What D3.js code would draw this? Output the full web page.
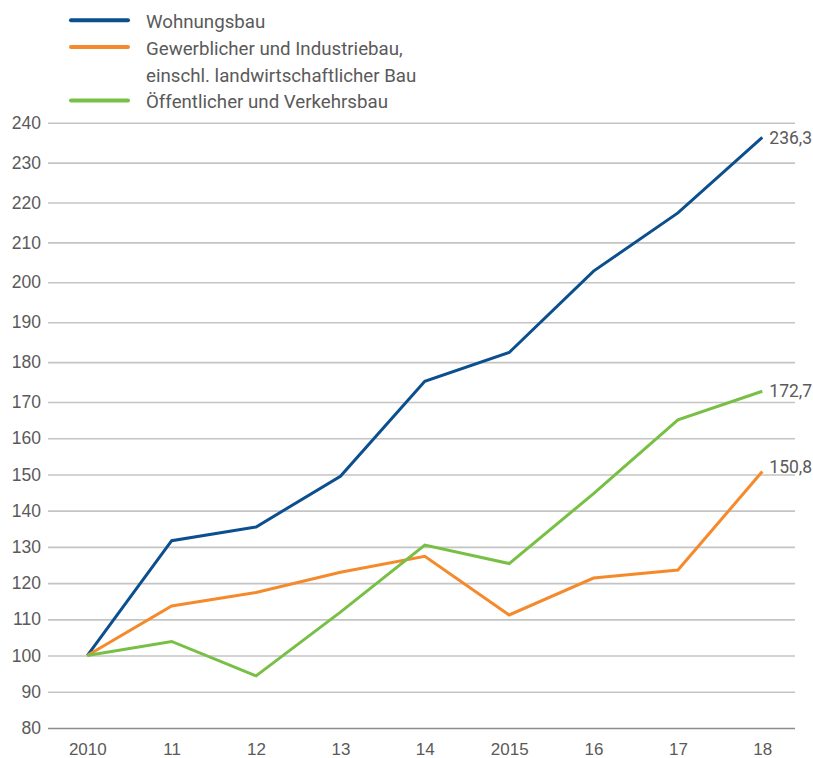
<!DOCTYPE html>
<html>
<head>
<meta charset="utf-8">
<script src="https://cdn.jsdelivr.net/npm/d3@7"></script>
<style>
  html, body { margin: 0; padding: 0; background: #fff; }
  svg { display: block; font-family: Roboto, "Noto Sans", sans-serif; }
</style>
</head>
<body>
<svg id="chart" width="813" height="758"></svg>
<script>
// Bauinvestitionen nach Bauart, Index 2010 = 100
const years = ["2010", "11", "12", "13", "14", "2015", "16", "17", "18"];
const wohnungsbau = [100, 131.7, 135.5, 149.5, 175.2, 182.4, 202.8, 217.4, 236.3];
const gewerbebau  = [100, 113.7, 117.4, 123.0, 127.4, 111.2, 121.4, 123.6, 150.8];
const oeffentlich = [100, 103.9, 94.4, 112.0, 130.5, 125.4, 144.7, 165.1, 172.7];
const yTicks = d3.range(80, 241, 10);
const seriesNames = [
  ["Wohnungsbau"],
  ["Gewerblicher und Industriebau,", "einschl. landwirtschaftlicher Bau"],
  ["Öffentlicher und Verkehrsbau"]
];
const endLabels = ["236,3", "150,8", "172,7"];

const colors = ["#0b4f8e", "#f58a2c", "#78bf45"];
const series = [wohnungsbau, gewerbebau, oeffentlich];
const textColor = "#5a5a5a";

const svg = d3.select("#chart");
const left = 48, right = 795;

const x = d3.scalePoint().domain(years).range([87.3, 762.3]);
const y = d3.scaleLinear().domain([80, 170, 240]).range([728, 402, 122.7]);

// horizontal grid and value axis
const yAxis = d3.axisLeft(y)
  .tickValues(yTicks)
  .tickSize(-(right - left))
  .tickPadding(7)
  .tickFormat(d3.format("d"));

const gy = svg.append("g")
  .attr("transform", `translate(${left},0)`)
  .call(yAxis);
gy.select(".domain").remove();
gy.selectAll(".tick line")
  .attr("stroke", d => d === 80 ? "#8c8c8c" : "#c4c4c4")
  .attr("stroke-width", 1.6);
gy.selectAll(".tick text")
  .attr("fill", textColor)
  .style("font-size", "17.5px");

// year axis
const xAxis = d3.axisBottom(x).tickSize(0).tickPadding(0);
const gx = svg.append("g")
  .attr("transform", "translate(0,737)")
  .call(xAxis);
gx.select(".domain").remove();
gx.selectAll(".tick text")
  .attr("fill", textColor)
  .attr("dy", "0")
  .attr("y", 18)
  .style("font-size", "17px");

// series lines
const line = d3.line()
  .x((d, i) => x(years[i]))
  .y(d => y(d));

series.forEach((vals, k) => {
  svg.append("path")
    .datum(vals)
    .attr("fill", "none")
    .attr("stroke", colors[k])
    .attr("stroke-width", 3)
    .attr("stroke-linejoin", "miter")
    .attr("d", line);
});

// end-of-line value labels
const labelShift = [0, -5, 0];
series.forEach((vals, k) => {
  const last = vals.length - 1;
  svg.append("text")
    .attr("x", x(years[last]) + 7)
    .attr("y", y(vals[last]) + labelShift[k])
    .attr("dy", "0.35em")
    .attr("fill", textColor)
    .style("font-size", "17.5px")
    .text(endLabels[k]);
});

// legend
const legendRows = [0, 1, 3];
const legend = svg.append("g");
seriesNames.forEach((lines, k) => {
  const baseY = 28.3 + legendRows[k] * 26.7;
  legend.append("line")
    .attr("x1", 71).attr("x2", 128)
    .attr("y1", baseY - 8).attr("y2", baseY - 8)
    .attr("stroke", colors[k])
    .attr("stroke-width", 4)
    .attr("stroke-linecap", "round");
  lines.forEach((t, j) => {
    legend.append("text")
      .attr("x", 146)
      .attr("y", baseY + j * 26.7)
      .attr("fill", textColor)
      .style("font-size", "18.7px")
      .text(t);
  });
});
</script>
</body>
</html>
